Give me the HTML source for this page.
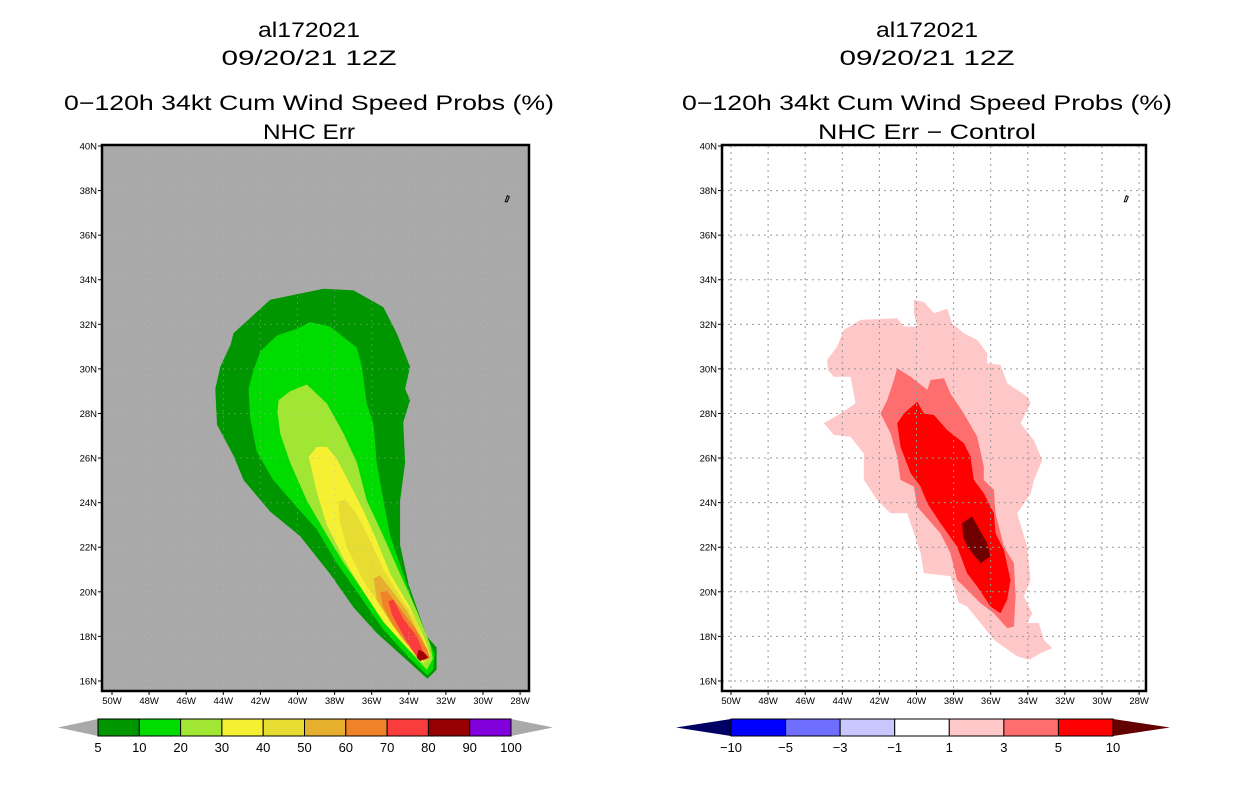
<!DOCTYPE html>
<html><head><meta charset="utf-8">
<style>
body{margin:0;background:#fff;width:1236px;height:800px;overflow:hidden;font-family:"Liberation Sans",sans-serif}
svg text{font-family:"Liberation Sans",sans-serif}
</style></head>
<body>
<svg id="c" width="1236" height="800" xmlns="http://www.w3.org/2000/svg"></svg>
<script>
const latTicks=[40,38,36,34,32,30,28,26,24,22,20,18,16];
const lonTicks=[50,48,46,44,42,40,38,36,34,32,30,28];
const leftLevels=['#009600','#00dc00','#a0e632','#f5f032','#e6dc32','#e6af2d','#f08228','#fa3c3c','#a00000'];
const leftLabels=['5','10','20','30','40','50','60','70','80','90','100'];
const leftBarColors=['#009600','#00dc00','#a0e632','#f5f032','#e6dc32','#e6af2d','#f08228','#fa3c3c','#960000','#8200dc'];
const rightLabels=['−10','−5','−3','−1','1','3','5','10'];
const rightBarColors=['#0000ff','#6e6eff','#c8c8ff','#ffffff','#ffc8c8','#ff6e6e','#ff0000'];
const p5=[[43.45,31.6],[41.47,33.1],[38.6,33.6],[36.98,33.52],[35.37,32.77],[34.65,31.6],[33.93,30.1],[34.2,29.1],[33.93,28.6],[34.3,27.6],[34.2,25.8],[34.47,24.1],[34.47,22.1],[34.0,20.3],[33.03,18.0],[32.5,17.5],[32.5,16.5],[33.0,16.1],[33.93,16.8],[35.73,18.15],[36.98,19.3],[38.24,20.8],[39.86,22.5],[41.47,23.6],[42.9,25.0],[43.45,26.1],[44.34,27.5],[44.43,29.1],[44.16,30.1],[43.6,31.1]];
const p10=[[42.0,30.8],[41.1,31.5],[40.04,31.8],[39.32,32.1],[38.24,31.9],[36.8,30.95],[36.53,30.1],[36.27,28.45],[35.9,27.5],[35.73,25.8],[35.37,24.1],[35.0,22.5],[34.3,20.8],[33.66,19.3],[33.03,18.0],[32.6,17.2],[32.7,16.5],[33.0,16.25],[33.93,17.0],[35.37,18.3],[36.8,20.0],[37.9,21.3],[38.96,22.8],[40.04,23.8],[41.3,25.0],[42.2,26.3],[42.55,27.8],[42.64,29.1],[42.37,29.95]];
const p20=[[41.02,28.6],[40.4,29.0],[39.5,29.3],[38.42,28.45],[37.52,27.1],[36.8,25.8],[36.27,24.1],[35.37,22.5],[34.47,20.8],[33.57,19.15],[32.85,17.65],[32.7,17.0],[33.03,16.5],[33.75,17.15],[35.0,18.3],[36.27,19.8],[37.52,21.3],[38.6,22.8],[39.5,24.1],[40.4,25.8],[40.93,27.1],[41.08,28.1]];
const p30=[[39.4,26.05],[38.96,26.5],[38.42,26.5],[37.88,25.97],[37.16,24.8],[36.44,23.64],[35.73,22.3],[35.0,20.8],[33.93,19.3],[33.2,18.0],[32.85,17.15],[33.2,16.8],[34.1,17.5],[35.37,18.65],[36.44,20.0],[37.52,21.5],[38.42,23.0],[38.96,24.47],[39.23,25.47]];
const p40=[[37.8,24.05],[37.43,24.14],[36.8,23.47],[36.09,22.3],[35.37,21.0],[34.47,19.8],[33.57,18.65],[33.12,17.65],[33.4,17.15],[34.3,17.8],[35.37,19.15],[36.44,20.5],[37.34,22.0],[37.7,23.1]];
const p50=[[35.9,20.6],[35.55,20.73],[35.0,20.15],[34.1,19.15],[33.4,18.0],[33.03,17.3],[33.4,17.1],[34.1,17.65],[35.0,18.65],[35.73,19.65]];
const p60=[[35.55,19.97],[35.2,20.06],[34.5,19.3],[33.6,18.3],[33.03,17.47],[32.85,17.05],[33.2,16.9],[33.9,17.47],[34.83,18.47],[35.37,19.3]];
const p70=[[35.1,19.57],[34.83,19.65],[34.3,18.8],[33.57,18.0],[33.2,17.3],[33.03,17.0],[33.4,16.9],[33.9,17.47],[34.47,18.3],[34.9,18.97]];
const p80=[[33.48,17.4],[33.2,17.3],[32.94,17.05],[33.4,16.9],[33.57,17.05]];
const d1=[[44.82,30.4],[44.28,31.0],[43.92,31.75],[43.02,32.2],[41.04,32.27],[40.68,31.9],[39.96,31.9],[40.14,32.5],[40.14,33.1],[39.6,33.0],[39.06,32.5],[38.35,32.7],[38.08,32.05],[37.45,31.6],[36.73,31.3],[36.19,30.7],[36.19,30.25],[35.47,30.18],[35.1,29.35],[34.03,28.76],[33.85,28.46],[34.39,27.56],[33.67,26.8],[33.22,25.9],[33.67,25.0],[33.85,24.4],[34.57,23.52],[34.03,22.03],[33.85,20.53],[34.21,19.79],[33.76,19.04],[34.03,18.6],[33.4,18.6],[33.13,17.84],[32.68,17.47],[33.31,17.25],[33.94,16.95],[34.57,17.1],[35.83,17.84],[36.55,18.6],[37.27,19.34],[37.72,19.5],[37.99,20.24],[38.17,20.7],[39.6,20.83],[39.78,21.73],[40.14,22.63],[40.5,23.52],[41.4,23.52],[42.12,24.12],[42.84,25.02],[42.84,26.2],[43.56,26.96],[44.46,27.04],[45.0,27.56],[44.1,28.0],[43.29,28.46],[43.56,29.65],[44.46,29.65],[44.78,29.95]];
const d3=[[41.04,30.03],[40.32,29.65],[39.42,29.06],[39.24,29.5],[38.52,29.58],[38.17,28.9],[37.45,28.0],[36.73,26.96],[36.37,25.62],[36.37,25.02],[35.83,24.57],[35.74,23.52],[35.29,22.03],[34.75,21.28],[34.66,19.79],[34.75,18.44],[35.11,18.37],[35.83,19.04],[36.55,19.49],[37.27,20.09],[37.81,20.53],[38.17,21.73],[38.71,22.63],[39.96,23.82],[40.14,24.72],[40.86,25.02],[41.04,26.07],[41.4,27.11],[41.94,28.0],[41.58,28.6],[41.22,29.5]];
const d5=[[40.68,28.0],[39.96,28.53],[39.6,28.0],[39.06,27.93],[38.35,27.26],[37.45,26.66],[37.09,26.07],[36.91,25.02],[36.37,24.42],[35.83,23.52],[35.74,22.63],[35.29,21.88],[34.93,20.53],[35.11,19.64],[35.47,19.04],[36.01,19.34],[36.73,20.24],[37.27,20.83],[37.81,22.03],[38.71,23.08],[39.42,23.97],[39.78,24.72],[40.32,25.32],[40.86,26.51],[41.04,27.56]];
const d10=[[37.54,23.08],[37.0,23.38],[36.19,22.18],[36.01,21.58],[36.55,21.28],[37.27,22.03],[37.48,22.48]];

const NS='http://www.w3.org/2000/svg';
const svg=document.getElementById('c');
function mk(tag,attrs,parent,txt){const e=document.createElementNS(NS,tag);for(const k in attrs)e.setAttribute(k,attrs[k]);if(txt!==undefined)e.textContent=txt;(parent||svg).appendChild(e);return e;}
function yOf(lat){return 146+(40-lat)*22.29;}
function makeX(x50){return lon=>x50+(50-lon)*18.55;}

function panel(x50,fx0,fx1,bg,polys,colors,title4,t4len,cx,pname){
  const xOf=makeX(x50);
  const g=mk('g',{},svg);
  
  
  const bgR=mk('rect',{x:fx0,y:145,width:fx1-fx0,height:546,fill:bg},g);
  
  
  polys.forEach((p,i)=>{
    const pts=p.map(d=>xOf(d[0]).toFixed(1)+','+yOf(d[1]).toFixed(1)).join(' ');
    const el=mk('polygon',{points:pts,fill:colors[i]},g);
    
    
  });
  const gc=bg==='#ffffff'?'#999':'#bbb';
  lonTicks.forEach(l=>{
    const x=xOf(l);
    const gl=mk('line',{x1:x,y1:146,x2:x,y2:690,stroke:gc,'stroke-width':1,'stroke-dasharray':'2,4',opacity:bg==='#ffffff'?1:0.35},g);
    
    
    mk('line',{x1:x,y1:691,x2:x,y2:695,stroke:'#000'},g);
    const t=mk('text',{x:x,y:704,'font-size':9.5,'text-anchor':'middle'},g,l+'W');
    
    
  });
  latTicks.forEach(l=>{
    const y=yOf(l);
    const gl=mk('line',{x1:fx0,y1:y,x2:fx1,y2:y,stroke:gc,'stroke-width':1,'stroke-dasharray':'2,4',opacity:bg==='#ffffff'?1:0.35},g);
    
    
    mk('line',{x1:fx0-4,y1:y,x2:fx0,y2:y,stroke:'#000'},g);
    const t=mk('text',{x:fx0-5,y:y+3.5,'font-size':9.5,'text-anchor':'end'},g,l+'N');
    
    
  });
  const isl=mk('path',{d:`M${xOf(28.8)} ${yOf(37.5)} l2 -6 l2 1 l-2 5 z`,fill:'none',stroke:'#000','stroke-width':1},g);
  
  
  const fr=mk('rect',{x:fx0,y:145,width:fx1-fx0,height:546,fill:'none',stroke:'#000','stroke-width':2.5},g);
  
  
  const lines=['al172021','09/20/21 12Z','0−120h 34kt Cum Wind Speed Probs (%)',title4];
  const lens=[102,175,490,t4len];
  const ys=[37,65,110,139];
  lines.forEach((s,i)=>{
    const t=mk('text',{x:cx,y:ys[i],'font-size':21,'text-anchor':'middle',textLength:lens[i],lengthAdjust:'spacingAndGlyphs'},g,s);
    
    
  });
}
panel(112,102,529,'#a9a9a9',[p5,p10,p20,p30,p40,p50,p60,p70,p80],leftLevels,'NHC Err',92,309,'left-panel');
panel(731,722,1146,'#ffffff',[d1,d3,d5,d10],['#ffc8c8','#ff6e6e','#ff0000','#700000'],'NHC Err − Control',218,927,'right-panel');

function colorbar(x0,x1,cols,labels,lowCol,highCol,tl,tr,name){
  const g=mk('g',{},svg);
  
  
  const y0=719,y1=736,ym=727.5,w=(x1-x0)/cols.length;
  const a=mk('polygon',{points:`${x0},${y0} ${x0},${y1} ${x0-tl},${ym}`,fill:lowCol},g);
  
  
  const b=mk('polygon',{points:`${x1},${y0} ${x1},${y1} ${x1+tr},${ym}`,fill:highCol},g);
  
  
  cols.forEach((c,i)=>{
    const r=mk('rect',{x:x0+i*w,y:y0,width:w,height:y1-y0,fill:c,stroke:'#000','stroke-width':1},g);
    
    
  });
  labels.forEach((s,i)=>{
    const t=mk('text',{x:x0+i*w,y:752,'font-size':13,'text-anchor':'middle'},g,s);
    
    
  });
}
colorbar(98,511,leftBarColors,leftLabels,'#a9a9a9','#a9a9a9',40,42,'left-colorbar');
colorbar(731,1113,rightBarColors,rightLabels,'#000064','#640000',55,57,'right-colorbar');
</script>
</body></html>
